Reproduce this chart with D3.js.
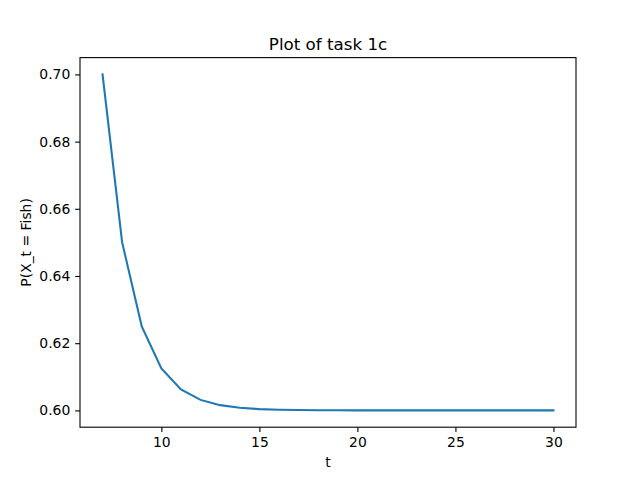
<!DOCTYPE html>
<html>
<head>
<meta charset="utf-8">
<script src="https://cdn.jsdelivr.net/npm/d3@7"></script>
<style>
  body { margin: 0; background: #fff; }
  text { font-family: "DejaVu Sans", sans-serif; }
</style>
</head>
<body>
<div id="chart"></div>
<script>
// Values
const tValues = [7, 8, 9, 10, 11, 12, 13, 14, 15, 16, 17, 18, 19, 20, 21, 22, 23, 24, 25, 26, 27, 28, 29, 30];
const pFish = [0.7, 0.65, 0.625, 0.6125, 0.60625, 0.603125, 0.6015625, 0.60078, 0.60039, 0.6002, 0.6001,
  0.60005, 0.600024, 0.600012, 0.600006, 0.600003, 0.6000015, 0.6000008, 0.6000004, 0.6000002,
  0.6000001, 0.60000005, 0.60000002, 0.60000001];
const xTicks = [10, 15, 20, 25, 30];
const yTicks = [0.60, 0.62, 0.64, 0.66, 0.68, 0.70];

const width = 640, height = 480;
const margin = { top: 57.6, right: 64, bottom: 52.8, left: 80 };
const innerW = width - margin.left - margin.right;
const innerH = height - margin.top - margin.bottom;

const svg = d3.select('#chart').append('svg')
  .attr('width', width)
  .attr('height', height);

const plot = svg.append('g')
  .attr('transform', `translate(${margin.left},${margin.top})`);

// matplotlib style 5% padding around the data
const [xMin, xMax] = d3.extent(tValues);
const [yMin, yMax] = d3.extent(pFish);
const xPad = (xMax - xMin) * 0.05, yPad = (yMax - yMin) * 0.05;

const x = d3.scaleLinear().domain([xMin - xPad, xMax + xPad]).range([0, innerW]);
const y = d3.scaleLinear().domain([yMin - yPad, yMax + yPad]).range([innerH, 0]);

const line = d3.line()
  .x((d, i) => x(tValues[i]))
  .y(d => y(d));

plot.append('path')
  .datum(pFish)
  .attr('fill', 'none')
  .attr('stroke', '#1f77b4')
  .attr('stroke-width', 2.08)
  .attr('stroke-linecap', 'square')
  .attr('d', line);

// Axes
const xAxis = plot.append('g')
  .attr('transform', `translate(0,${innerH})`)
  .call(d3.axisBottom(x).tickValues(xTicks).tickSize(4.86).tickPadding(4.86).tickFormat(d3.format('d')));
const yAxis = plot.append('g')
  .call(d3.axisLeft(y).tickValues(yTicks).tickSize(4.86).tickPadding(4.86).tickFormat(d3.format('.2f')));

[xAxis, yAxis].forEach(g => {
  g.select('.domain').remove();
  g.selectAll('.tick line').attr('stroke', '#000').attr('stroke-width', 1.1);
  g.selectAll('.tick text').attr('fill', '#000').style('font-size', '13.9px')
    .style('font-family', '"DejaVu Sans", sans-serif');
});

// Frame
plot.append('rect')
  .attr('width', innerW)
  .attr('height', innerH)
  .attr('fill', 'none')
  .attr('stroke', '#000')
  .attr('stroke-width', 1.1);

// Labels
svg.append('text')
  .attr('x', margin.left + innerW / 2)
  .attr('y', margin.top - 8)
  .attr('text-anchor', 'middle')
  .style('font-size', '16.7px')
  .text('Plot of task 1c');

svg.append('text')
  .attr('x', margin.left + innerW / 2)
  .attr('y', 467)
  .attr('text-anchor', 'middle')
  .style('font-size', '13.9px')
  .text('t');

svg.append('text')
  .attr('transform', `translate(31,${margin.top + innerH / 2}) rotate(-90)`)
  .attr('text-anchor', 'middle')
  .style('font-size', '13.9px')
  .text('P(X_t = Fish)');
</script>
</body>
</html>
